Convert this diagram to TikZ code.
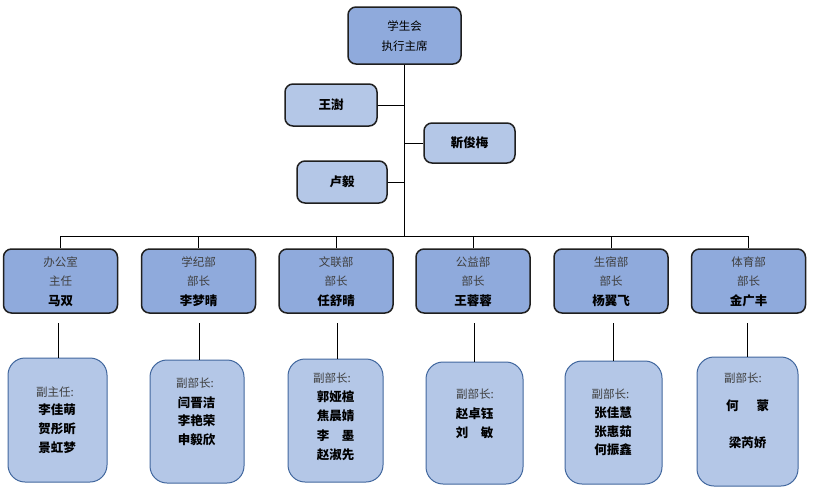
\documentclass[tikz,border=0pt]{standalone}
\usepackage{fontspec}
\setmainfont{Noto Sans CJK SC}
\definecolor{deptblue}{HTML}{8FAADC}
\definecolor{lightblue}{HTML}{B4C7E7}
\definecolor{subborder}{HTML}{41679E}
\definecolor{titlegray}{HTML}{3F3F3F}
\begin{document}
\begin{tikzpicture}[x=1pt,y=-1pt,
  mainbox/.style={draw=black!88, line width=1.5pt, rounded corners=8pt, inner sep=0pt},
  topbox/.style={mainbox, fill=deptblue, minimum width=113pt, minimum height=57pt},
  sidebox/.style={mainbox, fill=lightblue, minimum height=41pt},
  deptbox/.style={mainbox, fill=deptblue, minimum width=114pt, minimum height=64pt},
  subbox/.style={draw=subborder, line width=1pt, rounded corners=17pt, fill=lightblue, inner sep=0pt},
  titletext/.style={inner sep=0pt, text=titlegray, font=\fontsize{11.5}{13}\selectfont},
  nametext/.style={inner sep=0pt, text=black, font=\fontsize{12.5}{14}\selectfont\bfseries},
  link/.style={draw=black, line width=0.9pt}]
\useasboundingbox (0,0) rectangle (837,491);

% top
\node[topbox] (top) at (404.5,35.5) {};
\node[titletext, text=black] (topa) at (404.5,26) {学生会};
\node[titletext, text=black] (topb) at (404.5,46) {执行主席};

% side boxes
\node[sidebox, minimum width=92pt, minimum height=42pt] (wang) at (331,105) {\fontsize{12.5}{14}\selectfont\bfseries 王澍};
\node[sidebox, minimum width=91pt, minimum height=40pt] (jin) at (469.5,143) {\fontsize{12.5}{14}\selectfont\bfseries 靳俊梅};
\node[sidebox, minimum width=90pt, minimum height=42pt] (lu) at (342,182) {\fontsize{12.5}{14}\selectfont\bfseries 卢毅};

\coordinate (trunk) at (404,236);
\coordinate (barL) at (61,236);
\coordinate (barR) at (749,236);
\draw[link] (top.south -| trunk) -- (trunk);
\draw[link] (barL) -- (barR);
\draw[link] (wang.east) -- (wang.east -| trunk);
\draw[link] (jin.west) -- (jin.west -| trunk);
\draw[link] (lu.east) -- (lu.east -| trunk);

% departments
\foreach \i/\x/\t/\r/\n/\s in {1/60.5/办公室/主任/马双/58, 2/198.5/学纪部/部长/李梦晴/199, 3/336/文联部/部长/任舒晴/337, 4/473/公益部/部长/王蓉蓉/474, 5/611/生宿部/部长/杨翼飞/613, 6/748.5/体育部/部长/金广丰/747}{
  \node[deptbox] (d\i) at (\x,281) {};
  \node[titletext] (d\i a) at (\x,262) {\t};
  \node[titletext] (d\i b) at (\x,281.5) {\r};
  \node[nametext] (d\i c) at (\x,301) {\n};
  \draw[link] (d\i.north |- barL) -- (d\i.north);
  \coordinate (s\i) at (\s,323);
}

% sub boxes
\node[subbox, minimum width=99pt, minimum height=124pt] (b1) at (57.5,420) {};
\node[subbox, minimum width=94pt, minimum height=123pt] (b2) at (197,421.5) {};
\node[subbox, minimum width=95pt, minimum height=123pt] (b3) at (335.5,420.5) {};
\node[subbox, minimum width=97pt, minimum height=122pt] (b4) at (474.5,423) {};
\node[subbox, minimum width=97pt, minimum height=123pt] (b5) at (613.5,422.5) {};
\node[subbox, minimum width=101pt, minimum height=129pt] (b6) at (747.5,421.5) {};
\foreach \i in {1,...,6}{\draw[link] (s\i) -- (s\i |- b\i.north);}

\node[titletext] (t1) at (55,392) {副主任:};
\node[nametext] (n1a) at (57,410) {李佳萌};
\node[nametext] (n1b) at (57,429) {贺彤昕};
\node[nametext] (n1c) at (57,448) {景虹梦};

\node[titletext] (t2) at (195,383) {副部长:};
\node[nametext] (n2a) at (196.5,403) {闫晋洁};
\node[nametext] (n2b) at (196.5,421) {李艳荣};
\node[nametext] (n2c) at (196.5,440) {申毅欣};

\node[titletext] (t3) at (332,378) {副部长:};
\node[nametext] (n3a) at (335.5,397) {郭娅楦};
\node[nametext] (n3b) at (335.5,416) {焦晨婧};
\node[nametext] (n3c) at (335.5,436) {李　墨};
\node[nametext] (n3d) at (335.5,455) {赵淑先};

\node[titletext] (t4) at (475,394) {副部长:};
\node[nametext] (n4a) at (474.5,414) {赵卓钰};
\node[nametext] (n4b) at (474.5,433) {刘　敏};

\node[titletext] (t5) at (610.5,394) {副部长:};
\node[nametext] (n5a) at (613,413) {张佳慧};
\node[nametext] (n5b) at (613,432) {张惠茹};
\node[nametext] (n5c) at (613,450) {何振鑫};

\node[titletext] (t6) at (743,378) {副部长:};
\node[nametext] (n6a) at (747.5,406) {何\hspace{18pt}蒙};
\node[nametext] (n6b) at (747.5,443) {梁芮娇};
\end{tikzpicture}
\end{document}
